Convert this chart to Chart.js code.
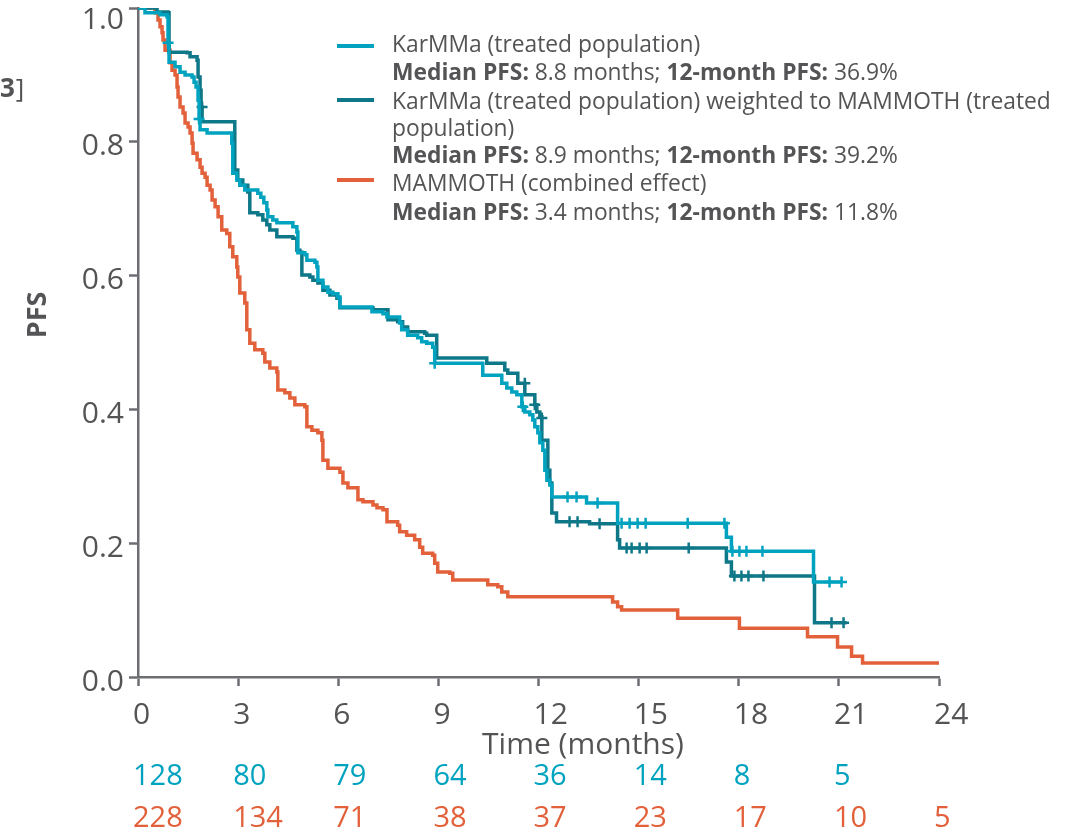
<!DOCTYPE html>
<html>
<head>
<meta charset="utf-8">
<script src="https://cdn.jsdelivr.net/npm/chart.js@4/dist/chart.umd.min.js"></script>
<style>
html,body{margin:0;padding:0;background:#fff;}
canvas{display:block;}
</style>
</head>
<body>
<canvas id="c" width="1079" height="835"></canvas>
<script>
// ---- data ----
const xTicks = [0, 3, 6, 9, 12, 15, 18, 21, 24];
const yTicks = [0, 0.2, 0.4, 0.6, 0.8, 1.0];

// KarMMa (treated population): [time (months), PFS]
const karmmaSteps = [[0,1.0],[0.21,0.993],[0.66,0.990],[0.87,0.987],[0.90,0.948],[0.93,0.919],[1.11,0.912],[1.26,0.904],[1.41,0.900],[1.62,0.897],[1.68,0.889],[1.74,0.882],[1.80,0.862],[1.83,0.834],[1.86,0.818],[2.07,0.813],[2.81,0.798],[2.84,0.753],[2.96,0.743],[3.05,0.735],[3.20,0.728],[3.59,0.723],[3.68,0.717],[3.77,0.709],[3.86,0.698],[3.89,0.688],[4.04,0.683],[4.16,0.679],[4.64,0.673],[4.76,0.665],[4.79,0.634],[5.00,0.631],[5.06,0.623],[5.30,0.620],[5.36,0.613],[5.39,0.593],[5.54,0.583],[5.69,0.575],[5.84,0.573],[5.99,0.568],[6.05,0.553],[7.01,0.546],[7.34,0.543],[7.46,0.538],[7.84,0.529],[7.90,0.519],[8.08,0.511],[8.38,0.507],[8.50,0.501],[8.65,0.499],[8.83,0.493],[8.89,0.469],[10.33,0.451],[10.90,0.439],[11.05,0.432],[11.20,0.426],[11.35,0.422],[11.50,0.404],[11.59,0.396],[11.74,0.392],[11.83,0.384],[11.89,0.374],[11.98,0.365],[12.04,0.350],[12.13,0.339],[12.19,0.309],[12.25,0.294],[12.34,0.287],[12.40,0.269],[13.44,0.260],[14.37,0.230],[17.63,0.209],[17.78,0.188],[20.24,0.142],[21.11,0.142]];
const karmmaCensored = [[0.90,0.948],[1.83,0.834],[8.89,0.469],[11.53,0.404],[12.87,0.269],[13.14,0.269],[13.77,0.260],[14.49,0.230],[14.73,0.230],[14.97,0.230],[15.21,0.230],[16.47,0.230],[17.57,0.230],[17.81,0.188],[18.02,0.188],[18.23,0.188],[18.71,0.188],[20.72,0.142],[21.08,0.142]];

// KarMMa weighted to MAMMOTH
const weightedSteps = [[0,1.0],[0.57,0.994],[0.90,0.993],[0.93,0.934],[1.47,0.933],[1.56,0.927],[1.77,0.922],[1.80,0.897],[1.86,0.877],[1.89,0.852],[1.92,0.830],[2.90,0.758],[2.99,0.743],[3.14,0.735],[3.29,0.725],[3.35,0.694],[3.59,0.691],[3.74,0.683],[3.86,0.676],[3.95,0.668],[4.16,0.658],[4.64,0.656],[4.76,0.638],[4.85,0.635],[4.91,0.601],[5.15,0.598],[5.24,0.593],[5.39,0.589],[5.54,0.578],[5.75,0.571],[5.96,0.566],[6.05,0.552],[7.04,0.549],[7.49,0.534],[7.78,0.531],[7.93,0.523],[8.08,0.516],[8.59,0.514],[8.65,0.511],[8.95,0.477],[10.45,0.469],[10.99,0.459],[11.08,0.454],[11.38,0.439],[11.59,0.422],[11.89,0.407],[11.95,0.396],[12.04,0.389],[12.10,0.354],[12.28,0.309],[12.34,0.290],[12.40,0.245],[12.54,0.232],[13.53,0.229],[14.37,0.205],[14.43,0.193],[17.63,0.172],[17.78,0.151],[20.27,0.081],[21.23,0.081]];
const weightedCensored = [[1.92,0.852],[11.59,0.439],[11.89,0.407],[12.10,0.387],[12.93,0.232],[13.17,0.232],[13.83,0.229],[14.64,0.193],[14.79,0.193],[15.03,0.193],[15.24,0.193],[16.50,0.193],[17.87,0.151],[18.08,0.151],[18.29,0.151],[18.74,0.151],[20.78,0.081],[21.14,0.081]];

// MAMMOTH (combined effect)
const mammothSteps = [[0,1.0],[0.51,0.993],[0.60,0.982],[0.66,0.972],[0.72,0.963],[0.75,0.952],[0.81,0.937],[0.96,0.918],[1.02,0.907],[1.11,0.900],[1.17,0.882],[1.20,0.867],[1.26,0.852],[1.35,0.843],[1.41,0.828],[1.50,0.822],[1.56,0.813],[1.62,0.798],[1.65,0.783],[1.77,0.773],[1.86,0.762],[1.92,0.753],[2.01,0.747],[2.07,0.735],[2.16,0.728],[2.22,0.713],[2.31,0.703],[2.40,0.688],[2.51,0.668],[2.66,0.663],[2.75,0.643],[2.84,0.628],[2.96,0.613],[2.99,0.598],[3.05,0.574],[3.20,0.559],[3.26,0.519],[3.35,0.499],[3.50,0.489],[3.74,0.484],[3.80,0.471],[3.95,0.462],[4.16,0.456],[4.19,0.429],[4.40,0.425],[4.55,0.417],[4.70,0.407],[5.00,0.404],[5.06,0.374],[5.21,0.369],[5.39,0.365],[5.51,0.354],[5.54,0.324],[5.69,0.312],[6.05,0.306],[6.14,0.290],[6.29,0.283],[6.59,0.265],[6.74,0.262],[7.04,0.257],[7.16,0.253],[7.34,0.250],[7.46,0.232],[7.78,0.227],[7.84,0.217],[8.05,0.212],[8.29,0.205],[8.44,0.194],[8.53,0.185],[8.83,0.182],[8.89,0.170],[8.98,0.157],[9.34,0.155],[9.43,0.145],[10.48,0.138],[10.78,0.135],[10.90,0.127],[11.08,0.120],[14.22,0.112],[14.37,0.105],[14.49,0.100],[16.17,0.088],[18.02,0.073],[20.06,0.060],[20.96,0.045],[21.38,0.031],[21.71,0.021],[24.0,0.021]];

// numbers at risk
const riskKarmma = [128, 80, 79, 64, 36, 14, 8, 5];
const riskMammoth = [228, 134, 71, 38, 37, 23, 17, 10, 5];

// legend text
const legendRows = [
  [["KarMMa (treated population)", false]],
  [["Median PFS:", true], [" 8.8 months; ", false], ["12-month PFS:", true], [" 36.9%", false]],
  [["KarMMa (treated population) weighted to MAMMOTH (treated", false]],
  [["population)", false]],
  [["Median PFS:", true], [" 8.9 months; ", false], ["12-month PFS:", true], [" 39.2%", false]],
  [["MAMMOTH (combined effect)", false]],
  [["Median PFS:", true], [" 3.4 months; ", false], ["12-month PFS:", true], [" 11.8%", false]]
];

// ---- styles ----
const C_KARMMA = '#00A3BF';
const C_WEIGHTED = '#0E7788';
const C_MAMMOTH = '#E2603A';
const C_TEXT = '#545456';
const C_AXIS = '#6D6E72';
const FONT = "'Open Sans', 'Noto Sans', sans-serif";

const toPts = arr => arr.map(p => ({x: p[0], y: p[1]}));

const overlay = {
  id: 'overlay',
  afterDraw(chart) {
    const ctx = chart.ctx;
    const xs = chart.scales.x;
    ctx.save();
    // legend
    const legendY = [46, 74, 103, 130, 157, 185, 214];
    const markers = [[46, C_KARMMA], [100, C_WEIGHTED], [180, C_MAMMOTH]];
    ctx.lineWidth = 4;
    markers.forEach(m => {
      ctx.strokeStyle = m[1];
      ctx.beginPath(); ctx.moveTo(337, m[0]); ctx.lineTo(374, m[0]); ctx.stroke();
    });
    ctx.textBaseline = 'middle';
    ctx.textAlign = 'left';
    ctx.fillStyle = C_TEXT;
    legendRows.forEach((row, i) => {
      let x = 392;
      row.forEach(seg => {
        ctx.font = (seg[1] ? 'bold ' : '') + '22.8px ' + FONT;
        ctx.fillText(seg[0], x, legendY[i]);
        x += ctx.measureText(seg[0]).width;
      });
    });
    // numbers at risk
    ctx.font = '29px ' + FONT;
    ctx.fillStyle = C_KARMMA;
    riskKarmma.forEach((v, i) => ctx.fillText(String(v), xs.getPixelForValue(xTicks[i]) - 5, 777));
    ctx.fillStyle = C_MAMMOTH;
    riskMammoth.forEach((v, i) => ctx.fillText(String(v), xs.getPixelForValue(xTicks[i]) - 5, 819));
    // axis titles
    ctx.fillStyle = C_TEXT;
    ctx.textAlign = 'center';
    ctx.font = '30px ' + FONT;
    ctx.fillText('Time (months)', 583, 745);
    ctx.save();
    ctx.translate(38, 315);
    ctx.rotate(-Math.PI / 2);
    ctx.font = 'bold 27px ' + FONT;
    ctx.fillText('PFS', 0, 0);
    ctx.restore();
    // clipped reference marker
    ctx.textAlign = 'left';
    ctx.font = 'bold 26px ' + FONT;
    ctx.fillText('3', 0, 90);
    const w3 = ctx.measureText('3').width;
    ctx.font = '26px ' + FONT;
    ctx.fillText(']', w3 + 1, 90);
    ctx.restore();
  }
};

function build() {
  new Chart(document.getElementById('c'), {
    type: 'line',
    data: {
      datasets: [
        {label: 'KarMMa (treated population)', data: toPts(karmmaSteps), borderColor: C_KARMMA, borderWidth: 3.5, stepped: true, pointRadius: 0, fill: false},
        {label: 'KarMMa censored', data: toPts(karmmaCensored), showLine: false, pointStyle: 'cross', pointRadius: 5.5, borderWidth: 2.5, borderColor: C_KARMMA},
        {label: 'KarMMa (treated population) weighted to MAMMOTH', data: toPts(weightedSteps), borderColor: C_WEIGHTED, borderWidth: 3.5, stepped: true, pointRadius: 0, fill: false},
        {label: 'Weighted censored', data: toPts(weightedCensored), showLine: false, pointStyle: 'cross', pointRadius: 5.5, borderWidth: 2.5, borderColor: C_WEIGHTED},
        {label: 'MAMMOTH (combined effect)', data: toPts(mammothSteps), borderColor: C_MAMMOTH, borderWidth: 3.5, stepped: true, pointRadius: 0, fill: false}
      ]
    },
    options: {
      responsive: false,
      animation: false,
      devicePixelRatio: 1,
      layout: {padding: {top: 8, right: 140, left: 0, bottom: 0}},
      plugins: {legend: {display: false}, tooltip: {enabled: false}},
      scales: {
        x: {
          type: 'linear', min: 0, max: 24,
          afterBuildTicks: s => { s.ticks = xTicks.map(v => ({value: v})); },
          afterFit: s => { s.height = 158; s.paddingLeft = 0; s.paddingRight = 0; },
          border: {color: C_AXIS, width: 2.5},
          grid: {drawOnChartArea: false, drawTicks: true, tickLength: 9, tickColor: C_AXIS, tickWidth: 2.5},
          ticks: {color: C_TEXT, font: {family: FONT, size: 30}, padding: 11, align: 'start', labelOffset: -5, maxRotation: 0, autoSkip: false, callback: v => String(v)}
        },
        y: {
          type: 'linear', min: 0, max: 1,
          afterBuildTicks: s => { s.ticks = yTicks.map(v => ({value: v})); },
          afterFit: s => { s.width = 138; s.paddingTop = 0; s.paddingBottom = 0; },
          border: {color: C_AXIS, width: 2.5},
          grid: {drawOnChartArea: false, drawTicks: true, tickLength: 9, tickColor: C_AXIS, tickWidth: 2.5},
          ticks: {
            color: C_TEXT, padding: 5, labelOffset: 5, autoSkip: false,
            font: c => ({family: FONT, size: 30, lineHeight: (c.tick && c.tick.value === 1) ? '14px' : 1.2}),
            callback: v => (v === 1 ? ['', Number(v).toFixed(1)] : Number(v).toFixed(1))
          }
        }
      }
    },
    plugins: [overlay]
  });
}

const loads = document.fonts ? Promise.all([
  document.fonts.load("30px 'Open Sans'"),
  document.fonts.load("bold 30px 'Open Sans'")
]).catch(() => {}) : Promise.resolve();
loads.then(build, build);
</script>
</body>
</html>
